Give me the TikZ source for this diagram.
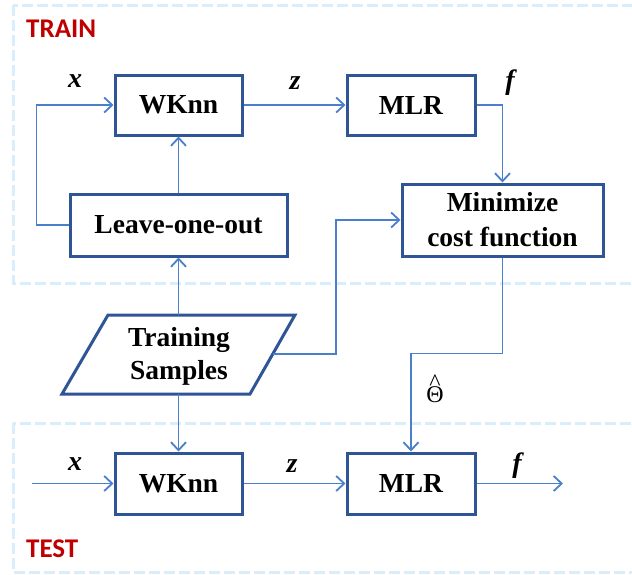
\documentclass[tikz,border=0pt]{standalone}
\usepackage{fontspec}
\setmainfont{Liberation Serif}
\newfontfamily\labelfont{Carlito}
\usetikzlibrary{arrows.meta}
\definecolor{boxblue}{HTML}{2F5597}
\definecolor{linkblue}{HTML}{4A7FCB}
\definecolor{dashblue}{HTML}{D9EEFB}
\definecolor{trainred}{HTML}{C00000}
\tikzset{
  blk/.style={draw=boxblue, line width=3pt, fill=white, inner sep=0pt,
    font=\fontsize{27.5}{35}\selectfont\bfseries, align=center},
  conn/.style={draw=linkblue, line width=1.8pt,
    -{Straight Barb[length=8pt,width=15pt,line width=1.8pt]}},
  region/.style={draw=dashblue, line width=3pt, dash pattern=on 11pt off 4pt},
  varlab/.style={font=\fontsize{28}{30}\selectfont\bfseries\itshape, inner sep=0pt},
  phase/.style={font=\fontsize{27}{30}\selectfont\labelfont\bfseries, text=trainred, inner sep=0pt, anchor=west}
}
\begin{document}
\begin{tikzpicture}[x=1pt,y=-1pt]
\useasboundingbox (0,0) rectangle (632,574);
% regions
\draw[region] (13,5) rectangle (660,283);
\draw[region] (13,423) rectangle (660,572.5);
\node[phase] (trainlab) at (26,29) {TRAIN};
\node[phase] (testlab) at (26,549) {TEST};
% blocks
\node[blk, minimum width=127pt, minimum height=60pt] (wk1) at (178.5,105) {WKnn};
\node[blk, minimum width=128pt, minimum height=60pt] (mlr1) at (411,105) {MLR};
\node[blk, minimum width=217pt, minimum height=62pt] (loo) at (178.5,225) {Leave-one-out};
\node[blk, minimum width=201pt, minimum height=72pt] (minc) at (502.5,220) {Minimize\\cost function};
\node[blk, minimum width=127pt, minimum height=61pt] (wk2) at (178.5,483.5) {WKnn};
\node[blk, minimum width=128pt, minimum height=61pt] (mlr2) at (411,483.5) {MLR};
% parallelogram
\draw[draw=boxblue, line width=3pt, line join=miter, fill=white] (108,315) -- (295,315) -- (250,394) -- (62,394) -- cycle;
\node[font=\fontsize{27.5}{33}\selectfont\bfseries, align=center] (ts) at (179,356) {Training\\Samples};
\coordinate (tsT) at (178.5,315);
\coordinate (tsB) at (178.5,394);
\coordinate (tsR) at (272.5,354);
\coordinate (xin) at (32,483.5);
\coordinate (fout) at (563,483.5);
% connectors
\draw[conn] (loo.west) -- ++(-32,0) |- (wk1.west);
\draw[conn] (loo.north) -- (wk1.south);
\draw[conn] (wk1.east) -- (mlr1.west);
\draw[conn] (mlr1.east) -| (minc.north);
\draw[conn] (tsT) -- (loo.south);
\draw[conn] (tsR) -- (336,354) |- (minc.west);
\draw[conn] (minc.south) -- (502.5,353.5) -| (mlr2.north);
\draw[conn] (tsB) -- (wk2.north);
\draw[conn] (xin) -- (wk2.west);
\draw[conn] (wk2.east) -- (mlr2.west);
\draw[conn] (mlr2.east) -- (fout);
% labels
\node[varlab] (x1) at (75,81) {x};
\node[varlab] (z1) at (295,83) {z};
\node[varlab] (f1) at (510,83) {f};
\node[varlab] (x2) at (75,464) {x};
\node[varlab] (z2) at (292,466) {z};
\node[varlab] (f2) at (517,466) {f};
\node[font=\fontsize{24}{24}\selectfont, inner sep=0pt, align=center] (theta) at (435,389) {\^{}\\[-12pt]Θ};
\end{tikzpicture}
\end{document}
